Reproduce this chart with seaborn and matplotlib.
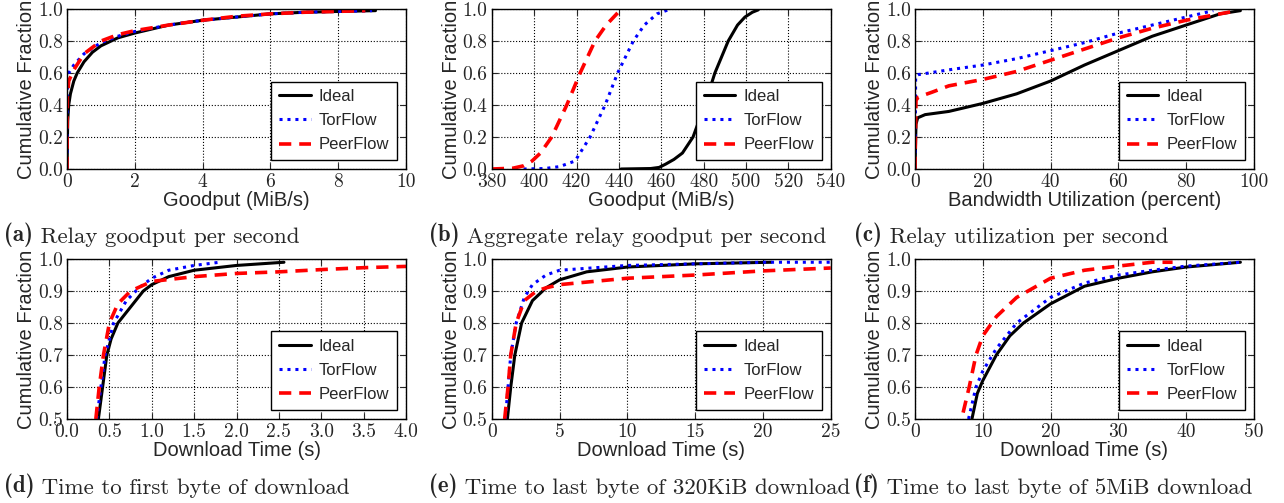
import seaborn as sns
import pandas as pd
import matplotlib.pyplot as plt

sns.set_style('ticks')
plt.rcParams['font.family'] = ['cmr10', 'DejaVu Serif']
plt.rcParams['mathtext.fontset'] = 'cm'
plt.rcParams['axes.formatter.use_mathtext'] = True
plt.rcParams['axes.unicode_minus'] = False

SANS = 'Liberation Sans'

# panel (a) relay goodput per second
a_ideal_x = [0, 0.02, 0.05, 0.1, 0.2, 0.3, 0.5, 0.75, 1.0, 1.5, 2, 3, 4, 5, 6, 7, 8, 9.1]
a_ideal_y = [0, 0.3, 0.4, 0.47, 0.55, 0.6, 0.67, 0.73, 0.77, 0.82, 0.85, 0.9, 0.93, 0.95, 0.97, 0.98, 0.985, 0.99]
a_tor_x = [0, 0.01, 0.05, 0.2, 0.5, 1.0, 1.5, 2, 3, 4, 5, 6, 7, 8, 9]
a_tor_y = [0, 0.5, 0.6, 0.65, 0.72, 0.79, 0.83, 0.86, 0.9, 0.93, 0.95, 0.97, 0.98, 0.985, 0.99]
a_peer_x = [0, 0.01, 0.05, 0.2, 0.5, 1.0, 1.5, 2, 3, 4, 5, 6, 7, 8.8]
a_peer_y = [0, 0.45, 0.55, 0.62, 0.72, 0.8, 0.84, 0.865, 0.9, 0.93, 0.955, 0.97, 0.98, 0.99]

# panel (b) aggregate relay goodput
b_ideal_x = [441, 455, 459, 462, 466, 470, 475, 480.5, 485.3, 491.6, 496, 499.5, 503, 505.8]
b_ideal_y = [0, 0.003, 0.01, 0.03, 0.06, 0.1, 0.2, 0.4, 0.6, 0.8, 0.9, 0.95, 0.98, 0.995]
b_tor_x = [395, 405, 412, 419.3, 426.4, 433.5, 439.4, 446.8, 452, 458, 463.3]
b_tor_y = [0, 0.003, 0.015, 0.05, 0.2, 0.4, 0.6, 0.8, 0.9, 0.97, 0.995]
b_peer_x = [380, 390, 395, 399, 403, 408.3, 415.4, 421.7, 428.7, 434, 439.7]
b_peer_y = [0, 0.005, 0.02, 0.05, 0.1, 0.2, 0.4, 0.6, 0.8, 0.9, 0.98]

# panel (c) relay utilization
c_ideal_x = [0, 0.3, 0.8, 3, 10, 14, 20, 30, 40, 50, 60, 70, 80, 90, 96]
c_ideal_y = [0, 0.28, 0.32, 0.34, 0.36, 0.38, 0.41, 0.47, 0.55, 0.65, 0.74, 0.83, 0.9, 0.97, 0.99]
c_tor_x = [0, 0.2, 1, 10, 20, 30, 40, 50, 60, 70, 80, 88]
c_tor_y = [0, 0.58, 0.59, 0.62, 0.65, 0.69, 0.74, 0.79, 0.85, 0.9, 0.95, 0.99]
c_peer_x = [0, 0.3, 1, 5, 10, 20, 30, 40, 50, 60, 70, 80, 90, 95]
c_peer_y = [0, 0.43, 0.45, 0.48, 0.52, 0.56, 0.61, 0.68, 0.75, 0.82, 0.88, 0.93, 0.97, 0.99]

# panel (d) time to first byte
d_ideal_x = [0.37, 0.42, 0.47, 0.52, 0.6, 0.75, 0.9, 1.0, 1.2, 1.5, 2.0, 2.56]
d_ideal_y = [0.5, 0.6, 0.7, 0.75, 0.8, 0.85, 0.9, 0.92, 0.945, 0.965, 0.98, 0.99]
d_tor_x = [0.35, 0.4, 0.45, 0.55, 0.7, 0.85, 1.0, 1.2, 1.5, 1.8]
d_tor_y = [0.5, 0.6, 0.7, 0.8, 0.87, 0.91, 0.94, 0.965, 0.98, 0.99]
d_peer_x = [0.34, 0.38, 0.43, 0.5, 0.6, 0.75, 1.0, 1.5, 2.0, 2.5, 3.0, 3.5, 4.0]
d_peer_y = [0.5, 0.6, 0.7, 0.8, 0.86, 0.9, 0.93, 0.945, 0.955, 0.96, 0.967, 0.973, 0.977]

# panel (e) time to last byte, 320KiB
e_ideal_x = [1.15, 1.4, 1.7, 2.2, 3, 4, 5, 7, 10, 15, 20.6]
e_ideal_y = [0.5, 0.6, 0.7, 0.8, 0.87, 0.91, 0.935, 0.96, 0.975, 0.985, 0.99]
e_tor_x = [1.0, 1.2, 1.4, 1.8, 2.4, 3, 4, 5, 10, 15, 20, 25]
e_tor_y = [0.5, 0.6, 0.7, 0.8, 0.88, 0.92, 0.95, 0.965, 0.98, 0.985, 0.99, 0.99]
e_peer_x = [0.95, 1.2, 1.4, 1.8, 2.4, 3.3, 4, 5, 10, 15, 20, 25]
e_peer_y = [0.5, 0.6, 0.7, 0.8, 0.87, 0.9, 0.91, 0.92, 0.94, 0.95, 0.963, 0.972]

# panel (f) time to last byte, 5MiB
f_ideal_x = [8.4, 9.2, 10, 12, 14, 16, 20, 25, 30, 35, 40, 48]
f_ideal_y = [0.5, 0.58, 0.62, 0.7, 0.76, 0.8, 0.86, 0.915, 0.94, 0.96, 0.975, 0.99]
f_tor_x = [7.9, 9, 10, 12, 15, 20, 25, 30, 35, 40, 48]
f_tor_y = [0.5, 0.6, 0.65, 0.72, 0.8, 0.88, 0.925, 0.95, 0.965, 0.978, 0.99]
f_peer_x = [7.1, 8, 9, 10, 12, 15, 20, 25, 30, 35, 38]
f_peer_y = [0.52, 0.6, 0.7, 0.76, 0.82, 0.88, 0.94, 0.965, 0.978, 0.99, 0.99]

panels = [
    ('a', 'Relay goodput per second', 'Goodput (MiB/s)', (0, 10), (0, 1), [0, 2, 4, 6, 8, 10], [0, 0.2, 0.4, 0.6, 0.8, 1.0], '%d', '%.1f',
     (a_ideal_x, a_ideal_y), (a_tor_x, a_tor_y), (a_peer_x, a_peer_y)),
    ('b', 'Aggregate relay goodput per second', 'Goodput (MiB/s)', (380, 540), (0, 1), list(range(380, 541, 20)), [0, 0.2, 0.4, 0.6, 0.8, 1.0], '%d', '%.1f',
     (b_ideal_x, b_ideal_y), (b_tor_x, b_tor_y), (b_peer_x, b_peer_y)),
    ('c', 'Relay utilization per second', 'Bandwidth Utilization (percent)', (0, 100), (0, 1), [0, 20, 40, 60, 80, 100], [0, 0.2, 0.4, 0.6, 0.8, 1.0], '%d', '%.1f',
     (c_ideal_x, c_ideal_y), (c_tor_x, c_tor_y), (c_peer_x, c_peer_y)),
    ('d', 'Time to first byte of download', 'Download Time (s)', (0, 4), (0.5, 1), [0, 0.5, 1, 1.5, 2, 2.5, 3, 3.5, 4], [0.5, 0.6, 0.7, 0.8, 0.9, 1.0], '%.1f', '%.1f',
     (d_ideal_x, d_ideal_y), (d_tor_x, d_tor_y), (d_peer_x, d_peer_y)),
    ('e', 'Time to last byte of 320KiB download', 'Download Time (s)', (0, 25), (0.5, 1), [0, 5, 10, 15, 20, 25], [0.5, 0.6, 0.7, 0.8, 0.9, 1.0], '%d', '%.1f',
     (e_ideal_x, e_ideal_y), (e_tor_x, e_tor_y), (e_peer_x, e_peer_y)),
    ('f', 'Time to last byte of 5MiB download', 'Download Time (s)', (0, 50), (0.5, 1), [0, 10, 20, 30, 40, 50], [0.5, 0.6, 0.7, 0.8, 0.9, 1.0], '%d', '%.1f',
     (f_ideal_x, f_ideal_y), (f_tor_x, f_tor_y), (f_peer_x, f_peer_y)),
]

styles = [('Ideal', 'black', '-', 2.2), ('TorFlow', 'blue', (0, (1, 1.6)), 2.2), ('PeerFlow', 'red', (0, (3.4, 2.2)), 2.6)]

fig = plt.figure(figsize=(12.84, 5.03), dpi=100)
lefts = [0.0522, 0.383, 0.7126]
bottoms = [0.664, 0.167]
W, H = 0.264, 0.318

for i, p in enumerate(panels):
    letter, caption, xlabel, xlim, ylim, xt, yt, xf, yf = p[:9]
    series = p[9:]
    r, c = divmod(i, 3)
    ax = fig.add_axes([lefts[c], bottoms[r], W, H])
    for (name, col, ls, lw), (xs, ys) in zip(styles, series):
        df = pd.DataFrame({'x': xs, 'y': ys})
        sns.lineplot(data=df, x='x', y='y', ax=ax, color=col, linestyle=ls, linewidth=lw,
                     label=name, sort=False, estimator=None)
    ax.set_xlim(xlim)
    ax.set_ylim(ylim)
    ax.set_xticks(xt)
    ax.set_yticks(yt)
    ax.set_xticklabels([xf % v for v in xt])
    ax.set_yticklabels([yf % v for v in yt])
    ax.tick_params(direction='in', top=True, right=True, labelsize=14, length=4, width=0.8, pad=3)
    ax.grid(True, color='black', linestyle=':', linewidth=0.8)
    for s in ax.spines.values():
        s.set_linewidth(1.0)
        s.set_color('black')
    ax.set_xlabel(xlabel, fontfamily=SANS, fontsize=14.5, labelpad=0)
    ax.set_ylabel('Cumulative Fraction', fontfamily=SANS, fontsize=14.5, labelpad=1)
    leg = ax.legend(loc='lower right', prop={'family': SANS, 'size': 12}, fancybox=False,
                    edgecolor='black', framealpha=1, handlelength=1.9, handletextpad=0.5,
                    borderaxespad=0.55, labelspacing=0.55, borderpad=0.45)
    leg.get_frame().set_linewidth(1.0)
    cy = 0.533 if r == 0 else 0.035
    t = fig.text(0.003 + c * 0.331, cy, '(%s)' % letter, fontsize=16.5,
                 fontfamily='cmb10', va='center', ha='left')
    ax.annotate(' ' + caption, xy=(1, 0), xycoords=t, fontsize=16.5, fontfamily='cmr10',
                va='bottom', ha='left', annotation_clip=False)

fig.savefig('out.png', dpi=100)
